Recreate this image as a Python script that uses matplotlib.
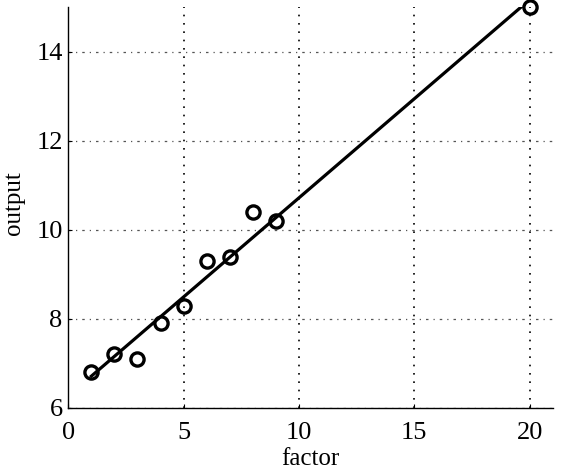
import numpy as np
import matplotlib
matplotlib.use("Agg")
import matplotlib.pyplot as plt

factor = [1, 2, 3, 4, 5, 6, 7, 8, 9, 20]
output = [6.8, 7.2, 7.1, 7.9, 8.3, 9.3, 9.4, 10.4, 10.2, 15.0]

plt.rcParams["font.family"] = ["Liberation Serif", "DejaVu Serif"]

fig = plt.figure(figsize=(5.64, 4.76), dpi=100)
ax = fig.add_axes([0.121, 0.143, 0.859, 0.842])

# least squares fit line
slope, intercept = np.polyfit(factor, output, 1)
xf = np.array([min(factor), max(factor)])
ax.plot(xf, slope * xf + intercept, color="black", lw=2.3, zorder=3)
ax.plot(factor, output, "o", mfc="none", mec="black", ms=9.5, mew=2.4,
        zorder=4, clip_on=False)

ax.set_xlim(0, 21)
ax.set_ylim(6, 15)
ax.set_xticks([0, 5, 10, 15, 20])
ax.set_yticks([6, 8, 10, 12, 14])
ax.xaxis.grid(True, color="black", ls=(0, (1, 4)), lw=1.2)
ax.yaxis.grid(True, color="#555555", ls=(0, (2, 4, 1, 4)), lw=0.9)
ax.set_axisbelow(True)

for s in ["top", "right"]:
    ax.spines[s].set_visible(False)
ax.spines["left"].set_linewidth(1.0)
ax.spines["bottom"].set_linewidth(1.0)
ax.tick_params(direction="in", length=3, labelsize=19)
ax.tick_params(axis="x", pad=10)
ax.tick_params(axis="y", pad=4)

ax.set_xlabel("factor", fontsize=18, labelpad=3)
ax.set_ylabel("output", fontsize=18)
ax.yaxis.set_label_coords(-0.09, 0.51)

fig.savefig("out.png", dpi=100)
